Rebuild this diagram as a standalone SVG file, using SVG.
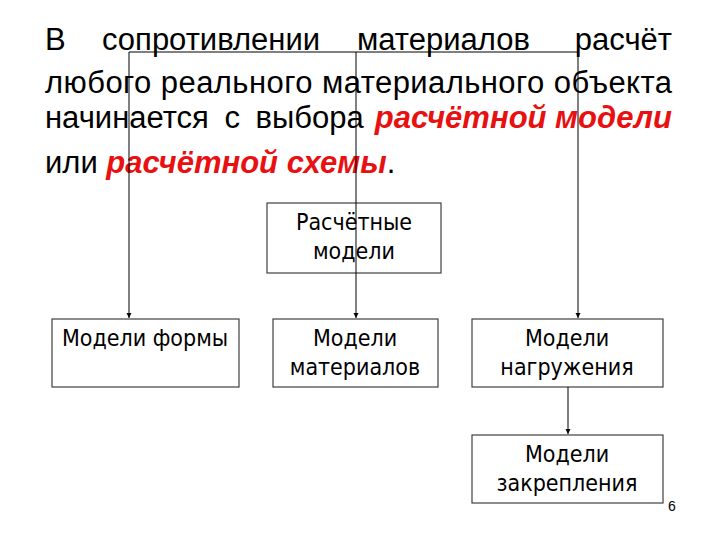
<svg xmlns="http://www.w3.org/2000/svg" width="720" height="540" viewBox="0 0 720 540">
<style>
.t{font-family:"Liberation Sans",Arial,sans-serif;font-size:31px;fill:#000}
.r{font-weight:bold;font-style:italic;fill:#e81010}
.box{fill:#fff;stroke:#404040;stroke-width:1.2}
.bt{font-family:"DejaVu Sans Condensed","DejaVu Sans",sans-serif;font-stretch:condensed;font-size:23px;fill:#000;text-anchor:middle}
.ln{stroke:#000;stroke-width:1;fill:none}
</style>
<defs>
<marker id="ah" markerWidth="6" markerHeight="6" refX="5" refY="3" orient="auto" markerUnits="userSpaceOnUse">
<path d="M0,0.5 L5,3 L0,5.5 Z" fill="#000"/>
</marker>
</defs>
<g id="title">
<text class="t" y="50"><tspan x="45">В</tspan><tspan x="102">сопротивлении</tspan><tspan x="357">материалов</tspan><tspan x="672" text-anchor="end">расчёт</tspan></text>
<text class="t" x="45" y="93" textLength="627" lengthAdjust="spacing">любого реального материального объекта</text>
<text class="t" x="45" y="128" word-spacing="7">начинается с выбора</text>
<text class="t r" x="672" y="128" text-anchor="end">расчётной модели</text>
<text class="t" x="45" y="173">или <tspan class="r">расчётной схемы</tspan>.</text>
</g>
<g id="n-raschetnye">
<rect class="box" x="267" y="203" width="174" height="70"/>
<text class="bt" x="354" y="230">Расчётные</text>
<text class="bt" x="354" y="259">модели</text>
</g>
<g id="n-formy">
<rect class="box" x="52" y="319" width="187" height="68"/>
<text class="bt" x="145" y="346">Модели формы</text>
</g>
<g id="n-materialov">
<rect class="box" x="273" y="319" width="165" height="68"/>
<text class="bt" x="355" y="346">Модели</text>
<text class="bt" x="355" y="375">материалов</text>
</g>
<g id="n-nagruzheniya">
<rect class="box" x="472" y="319" width="191" height="68"/>
<text class="bt" x="567" y="346">Модели</text>
<text class="bt" x="567" y="375">нагружения</text>
</g>
<g id="n-zakrepleniya">
<rect class="box" x="472" y="435" width="191" height="68"/>
<text class="bt" x="567" y="462">Модели</text>
<text class="bt" x="567" y="491">закрепления</text>
</g>
<g id="connectors">
<path class="ln" d="M129,52 H578"/>
<path class="ln" d="M129,52 V318" marker-end="url(#ah)"/>
<path class="ln" d="M356,52 V318" marker-end="url(#ah)"/>
<path class="ln" d="M578,52 V318" marker-end="url(#ah)"/>
<path class="ln" d="M568,387 V434" marker-end="url(#ah)"/>
</g>
<text x="668" y="511" style="font-family:'Liberation Sans',Arial,sans-serif;font-size:14px;fill:#000">6</text>
</svg>
